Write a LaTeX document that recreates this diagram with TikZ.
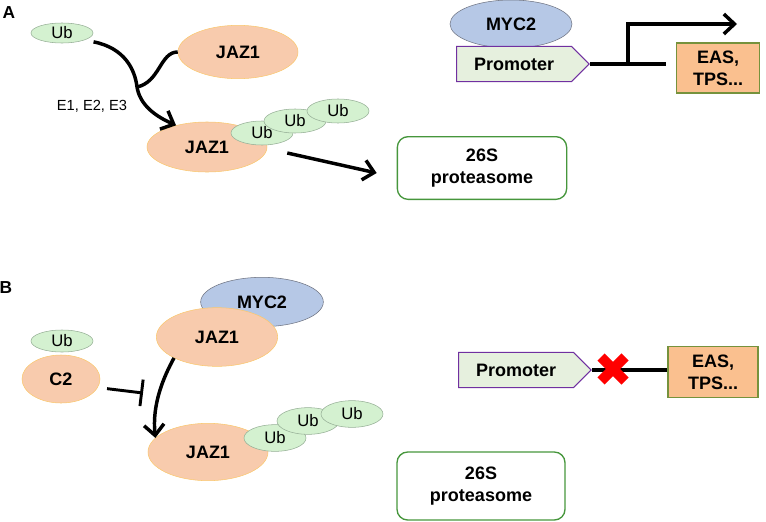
\documentclass[tikz,border=0pt]{standalone}
\usepackage{fontspec}
\setmainfont{Liberation Sans}
\usepackage{tikz}
\usetikzlibrary{shapes.geometric,shapes.symbols,arrows.meta}
\definecolor{ubfill}{RGB}{212,241,208}
\definecolor{ubline}{RGB}{150,175,150}
\definecolor{jazfill}{RGB}{248,203,173}
\definecolor{jazline}{RGB}{250,200,110}
\definecolor{mycfill}{RGB}{182,200,230}
\definecolor{mycline}{RGB}{110,115,130}
\definecolor{promfill}{RGB}{230,240,222}
\definecolor{promline}{RGB}{112,48,160}
\definecolor{genefill}{RGB}{250,192,143}
\definecolor{geneline}{RGB}{118,146,60}
\definecolor{protline}{RGB}{70,150,60}
\definecolor{stopred}{RGB}{255,0,0}

\begin{document}
\begin{tikzpicture}[x=0.75pt,y=-0.75pt,
  ub/.style={ellipse, draw=ubline, fill=ubfill, inner sep=0pt, minimum width=46.5pt, minimum height=18pt, font=\fontsize{12.5}{14}\selectfont},
  jaz/.style={ellipse, draw=jazline, fill=jazfill, inner sep=0pt, minimum width=90pt, minimum height=40pt, font=\fontsize{13.5}{15}\selectfont\bfseries},
  myc/.style={ellipse, draw=mycline, fill=mycfill, inner sep=0pt, minimum width=91.5pt, minimum height=36pt, font=\fontsize{13.5}{15}\selectfont\bfseries},
  prom/.style={signal, signal to=east, draw=promline, fill=promfill, line width=0.8pt, inner xsep=13pt, inner ysep=0pt, minimum height=26.5pt, font=\fontsize{13.5}{15}\selectfont\bfseries},
  gene/.style={rectangle, draw=geneline, fill=genefill, line width=1pt, align=center, inner sep=0pt, minimum width=62pt, minimum height=38pt, font=\fontsize{13.5}{16.5}\selectfont\bfseries},
  prot/.style={rectangle, rounded corners=8pt, draw=protline, line width=1pt, align=center, inner sep=0pt, minimum width=127pt, minimum height=47pt, font=\fontsize{13.5}{16}\selectfont\bfseries},
  arr/.style={line width=2.6pt, -{Straight Barb[length=8pt,width=15pt]}},
  tag/.style={font=\fontsize{13}{15}\selectfont\bfseries}]
  \useasboundingbox (0,0) rectangle (766,521);

  % panel A
  \node[tag] (labA) at (9,13) {A};
  \node[ub, minimum height=15pt] (ubA) at (62,33) {Ub};
  \node[jaz] (jazA1) at (238,52) {JAZ1};
  \node[jaz, minimum height=37.5pt] (jazA2) at (207,147) {JAZ1};
  \node[ub] (ubA1) at (262,133) {Ub};
  \node[ub] (ubA2) at (295,121) {Ub};
  \node[ub] (ubA3) at (338,111) {Ub};
  \node[font=\fontsize{11}{13}\selectfont] (enz) at (92,106) {E1, E2, E3};
  \coordinate (mrg) at (137,87);
  \draw[arr] ([xshift=3pt,yshift=-3pt]ubA.-10) .. controls (125,48) and (135,70) .. (mrg)
    .. controls (140,105) and (155,116) .. (jazA2.145);
  \draw[line width=2.6pt] (jazA1.west) .. controls (160,52) and (160,82) .. (mrg);
  \node[prot] (protA) at (482,168) {26S\\proteasome};
  \draw[arr] ([xshift=15pt,yshift=-4.5pt]jazA2.east) -- ([xshift=-15pt,yshift=-3.75pt]protA.west);

  \node[myc] (mycA) at (511,24) {MYC2};
  \node[prom] (promA) at (514,64) {Promoter};
  \node[gene, minimum width=62pt, minimum height=37.5pt] (geneA) at (718,68) {EAS,\\TPS...};
  \coordinate (tss) at (628,64);
  \coordinate (txA) at (737,24);
  \draw[line width=2.6pt] (promA.east) -- ([xshift=-7.5pt]promA.east -| geneA.west);
  \draw[arr] (tss) |- (txA);

  % panel B
  \node[tag] (labB) at (6,288) {B};
  \node[myc, minimum width=92pt, minimum height=37pt] (mycB) at (262,302) {MYC2};
  \node[jaz, minimum width=91pt, minimum height=44pt] (jazB1) at (217,337) {JAZ1};
  \node[ub, minimum height=16.5pt] (ubB) at (62,341) {Ub};
  \node[jaz, minimum width=58.5pt, minimum height=36pt] (c2) at (61,379) {C2};
  \node[jaz, minimum height=43pt] (jazB2) at (208,452) {JAZ1};
  \node[ub, minimum height=20pt] (ubB1) at (275,438) {Ub};
  \node[ub, minimum height=20pt] (ubB2) at (308,421) {Ub};
  \node[ub, minimum height=20pt] (ubB3) at (352,414) {Ub};
  \draw[arr] (jazB1.206) .. controls (163,378) and (152,405) .. (jazB2.165);
  \coordinate (blk) at (143,393);
  \draw[line width=2.2pt, -{Bar[width=20pt,line width=2.2pt]}] ([xshift=7.5pt]c2.-15) -- (blk);

  \node[prom] (promB) at (516,370) {Promoter};
  \node[gene, minimum width=67.5pt, minimum height=38pt] (geneB) at (713,372) {EAS,\\TPS...};
  \draw[line width=2.6pt] (promB.east) -- (promB.east -| geneB.west);
  \draw[stopred, line width=7.5pt] (601,357) -- (625,381) (601,381) -- (625,357);
  \node[prot, minimum width=126pt, minimum height=51pt] (protB) at (481,486) {26S\\proteasome};
\end{tikzpicture}
\end{document}
